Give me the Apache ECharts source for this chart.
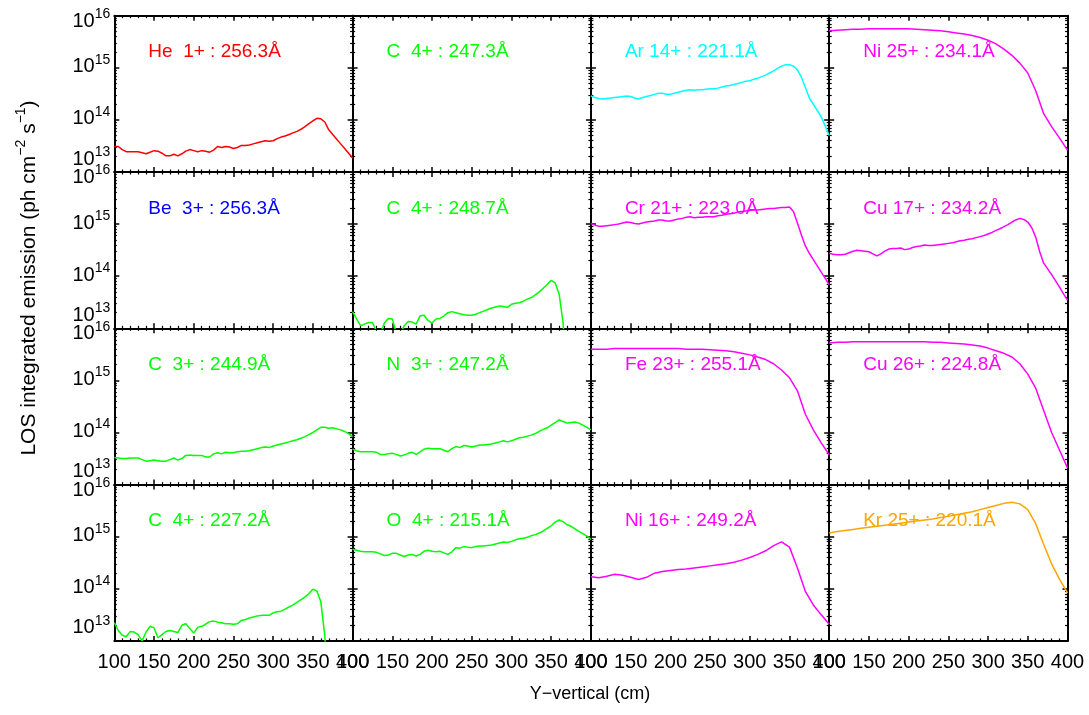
<!DOCTYPE html>
<html><head><meta charset="utf-8">
<script src="https://cdn.jsdelivr.net/npm/echarts@6/dist/echarts.min.js"></script>
<style>html,body{margin:0;padding:0;background:#fff}#c{width:1089px;height:715px}</style>
</head><body><div id="c"></div>
<script>
// ---- data (log10 of LOS integrated emission) ----
const xs5  = [100,105,110,115,120,125,130,135,140,145,150,155,160,165,170,175,180,185,190,195,200,205,210,215,220,225,230,235,240,245,250,255,260,265,270,275,280,285,290,295,300,305,310,315,320,325,330,335,340,345,350,355,360,365,370,375,380,385,390,395,400];
const xs10 = [100,110,120,130,140,150,160,170,180,190,200,210,220,230,240,250,260,270,280,290,300,310,320,330,340,350,360,370,380,390,400];
const yTickExp = [13, 14, 15, 16];
const labels = ['He  1+ : 256.3Å','C  4+ : 247.3Å','Ar 14+ : 221.1Å','Ni 25+ : 234.1Å',
                'Be  3+ : 256.3Å','C  4+ : 248.7Å','Cr 21+ : 223.0Å','Cu 17+ : 234.2Å',
                'C  3+ : 244.9Å','N  3+ : 247.2Å','Fe 23+ : 255.1Å','Cu 26+ : 224.8Å',
                'C  4+ : 227.2Å','O  4+ : 215.1Å','Ni 16+ : 249.2Å','Kr 25+ : 220.1Å'];
const colors = ['#ff0000','#00ff00','#00ffff','#ff00ff',
                '#0000ff','#00ff00','#ff00ff','#ff00ff',
                '#00ff00','#00ff00','#ff00ff','#ff00ff',
                '#00ff00','#00ff00','#ff00ff','#ffa500'];
// sampled every 5 cm
const he1  = [13.49,13.49,13.43,13.39,13.39,13.39,13.39,13.37,13.35,13.38,13.41,13.40,13.36,13.31,13.31,13.34,13.31,13.35,13.40,13.43,13.41,13.39,13.41,13.40,13.38,13.42,13.49,13.47,13.49,13.48,13.45,13.47,13.51,13.51,13.52,13.54,13.56,13.58,13.60,13.59,13.60,13.64,13.67,13.69,13.72,13.75,13.78,13.82,13.87,13.93,13.98,14.03,14.02,13.96,13.81,13.72,13.63,13.54,13.45,13.36,13.27];
const c4a  = [];
const ar14 = [14.46,14.43,14.41,14.40,14.41,14.42,14.43,14.44,14.45,14.46,14.45,14.42,14.40,14.43,14.45,14.47,14.49,14.51,14.51,14.49,14.49,14.51,14.53,14.55,14.57,14.58,14.57,14.58,14.58,14.59,14.60,14.60,14.61,14.63,14.65,14.66,14.68,14.70,14.72,14.74,14.75,14.78,14.80,14.83,14.86,14.90,14.94,14.99,15.03,15.06,15.06,15.03,14.96,14.82,14.62,14.42,14.30,14.18,14.06,13.88,13.70];
const be3  = [];
const c4b  = [13.32,13.18,13.05,13.08,13.11,13.11,12.95,12.90,13.10,13.19,13.18,12.90,12.90,13.05,13.13,13.12,13.08,13.24,13.25,13.15,13.10,13.18,13.19,13.24,13.30,13.32,13.30,13.28,13.26,13.25,13.25,13.27,13.30,13.33,13.36,13.39,13.41,13.43,13.42,13.40,13.46,13.48,13.49,13.52,13.56,13.59,13.64,13.70,13.77,13.84,13.92,13.87,13.66,13.10,12.00,null,null,null,null,null,null];
const cr21 = [15.01,14.98,14.96,14.96,14.97,14.98,14.99,15.00,15.02,15.04,15.03,15.01,15.00,15.02,15.04,15.05,15.06,15.08,15.08,15.06,15.06,15.08,15.10,15.11,15.13,15.14,15.12,15.13,15.13,15.14,15.14,15.14,15.16,15.17,15.19,15.20,15.21,15.23,15.24,15.25,15.26,15.27,15.27,15.28,15.29,15.30,15.30,15.31,15.32,15.32,15.33,15.24,15.02,14.79,14.58,14.44,14.32,14.20,14.08,13.96,13.84];
const cu17 = [14.44,14.42,14.41,14.41,14.42,14.45,14.48,14.50,14.49,14.48,14.47,14.43,14.39,14.43,14.48,14.52,14.53,14.53,14.54,14.51,14.52,14.55,14.57,14.58,14.60,14.59,14.59,14.60,14.61,14.62,14.63,14.64,14.66,14.68,14.69,14.71,14.72,14.74,14.76,14.78,14.81,14.84,14.88,14.91,14.95,14.99,15.04,15.08,15.11,15.09,15.04,14.93,14.75,14.47,14.25,14.14,14.03,13.91,13.79,13.66,13.54];
const c3   = [13.52,13.51,13.50,13.50,13.51,13.51,13.51,13.48,13.45,13.46,13.47,13.46,13.45,13.45,13.48,13.51,13.47,13.50,13.56,13.57,13.56,13.56,13.56,13.53,13.53,13.59,13.61,13.59,13.62,13.61,13.61,13.63,13.64,13.64,13.65,13.67,13.69,13.71,13.72,13.71,13.74,13.76,13.78,13.80,13.82,13.84,13.86,13.89,13.92,13.96,14.00,14.05,14.10,14.10,14.08,14.09,14.07,14.05,14.02,13.98,13.92];
const n3   = [13.68,13.65,13.63,13.63,13.63,13.63,13.62,13.58,13.58,13.59,13.60,13.58,13.55,13.57,13.60,13.62,13.58,13.63,13.68,13.70,13.69,13.69,13.69,13.66,13.63,13.69,13.73,13.71,13.75,13.74,13.72,13.74,13.76,13.76,13.77,13.78,13.80,13.82,13.84,13.82,13.84,13.87,13.90,13.91,13.93,13.95,13.98,14.02,14.06,14.09,14.14,14.19,14.24,14.21,14.18,14.19,14.20,14.18,14.14,14.10,14.05];
const c4c  = [13.35,13.20,13.11,13.08,13.18,13.17,13.12,13.00,13.17,13.28,13.25,13.06,13.12,13.18,13.20,13.18,13.16,13.30,13.33,13.24,13.15,13.26,13.28,13.32,13.37,13.38,13.36,13.35,13.33,13.33,13.32,13.33,13.39,13.41,13.44,13.46,13.48,13.49,13.49,13.49,13.54,13.56,13.57,13.61,13.65,13.69,13.74,13.79,13.84,13.91,13.99,13.96,13.75,13.10,12.00,null,null,null,null,null,null];
const o4   = [14.76,14.74,14.72,14.71,14.71,14.71,14.70,14.67,14.64,14.65,14.68,14.68,14.65,14.62,14.65,14.66,14.63,14.66,14.72,14.74,14.72,14.71,14.72,14.69,14.66,14.71,14.79,14.78,14.81,14.80,14.79,14.81,14.82,14.82,14.83,14.84,14.86,14.88,14.90,14.89,14.91,14.94,14.96,14.97,14.99,15.02,15.04,15.07,15.11,15.16,15.21,15.28,15.32,15.29,15.23,15.20,15.15,15.10,15.06,15.01,14.95];
// sampled every 10 cm
const ni25 = [15.71,15.72,15.73,15.74,15.74,15.75,15.75,15.75,15.75,15.75,15.75,15.74,15.73,15.72,15.71,15.69,15.67,15.65,15.62,15.58,15.53,15.46,15.36,15.24,15.09,14.90,14.56,14.12,13.87,13.65,13.42];
const fe23 = [15.60,15.60,15.60,15.61,15.61,15.61,15.61,15.61,15.61,15.61,15.61,15.61,15.60,15.60,15.60,15.59,15.58,15.57,15.55,15.52,15.49,15.45,15.40,15.32,15.20,15.05,14.80,14.35,14.05,13.80,13.57];
const cu26 = [15.72,15.73,15.73,15.74,15.74,15.74,15.74,15.74,15.74,15.74,15.74,15.74,15.74,15.73,15.73,15.72,15.71,15.70,15.68,15.66,15.62,15.57,15.52,15.45,15.32,15.12,14.85,14.42,14.00,13.66,13.32];
const ni16 = [14.23,14.21,14.24,14.28,14.26,14.22,14.18,14.22,14.30,14.33,14.35,14.37,14.38,14.40,14.42,14.44,14.46,14.48,14.51,14.55,14.60,14.66,14.73,14.83,14.90,14.80,14.40,13.95,13.69,13.50,13.32];
const kr25 = [15.07,15.10,15.12,15.14,15.16,15.18,15.20,15.22,15.24,15.26,15.28,15.30,15.32,15.34,15.37,15.39,15.42,15.45,15.48,15.52,15.56,15.60,15.64,15.66,15.63,15.52,15.25,14.85,14.48,14.18,13.92];
const seriesLog = [he1,c4a,ar14,ni25, be3,c4b,cr21,cu17, c3,n3,fe23,cu26, c4c,o4,ni16,kr25];
const seriesX   = [xs5,xs5,xs5,xs10, xs5,xs5,xs5,xs5, xs5,xs5,xs10,xs10, xs5,xs5,xs10,xs10];

// ---- layout ----
const L0 = 114.3, PW = 238.3, T0 = 15.7, PH = 156.3;
const FONT = "'Liberation Sans', Arial, Helvetica, sans-serif";
const YMIN = Math.pow(10, yTickExp[0]), YMAX = Math.pow(10, yTickExp[yTickExp.length-1]);
const minorVals = [];
yTickExp.slice(0, -1).forEach(e => { for (let m = 2; m <= 9; m++) minorVals.push(m * Math.pow(10, e)); });

const line = {show:true, onZero:false, lineStyle:{color:'#000', width:2}};
function xAx(gi, pos, showLab) {
  return {type:'value', gridIndex:gi, position:pos, min:100, max:400, interval:50,
    axisLine: line, splitLine:{show:false},
    axisTick:{show:true, inside:true, length:5, lineStyle:{color:'#000', width:1.5}},
    minorTick:{show:true, splitNumber:5, length:2.5, lineStyle:{color:'#000', width:1.2}},
    axisLabel:{show:showLab, margin:12, fontSize:20, color:'#000', fontFamily:FONT,
      showMinLabel:true, showMaxLabel:true}};
}
const rich = {
  b:{fontSize:20, fontFamily:FONT, color:'#000', padding:[4,0,6,0]},
  s:{fontSize:14, fontFamily:FONT, color:'#000', verticalAlign:'top'},
  bl:{fontSize:20, fontFamily:FONT, color:'#000', padding:[4,0,30,0]},
  bh:{fontSize:20, fontFamily:FONT, color:'#000', padding:[11,0,0,0]},
  sh:{fontSize:14, fontFamily:FONT, color:'#000', verticalAlign:'top', padding:[7,0,0,0]}
};
function yAx(gi, pos, showLab) {
  return {type:'log', logBase:10, gridIndex:gi, position:pos, min:YMIN, max:YMAX,
    axisLine: line, splitLine:{show:false},
    axisTick:{show:true, inside:true, length:5, lineStyle:{color:'#000', width:1.5}},
    axisLabel:{show:showLab, margin:4, color:'#000', rich:rich,
      formatter: v => {
        const e = Math.round(Math.log10(v));
        if (e === yTickExp[0]) return '{bl|10}{s|' + e + '}';
        if (e === yTickExp[yTickExp.length-1]) return '{bh|10}{sh|' + e + '}';
        return '{b|10}{s|' + e + '}';
      }}};
}
function yMinor(gi, pos) {
  return {type:'log', logBase:10, gridIndex:gi, position:pos, min:YMIN, max:YMAX,
    axisLine:{show:false}, splitLine:{show:false}, axisLabel:{show:false},
    axisTick:{show:true, inside:true, length:2.5, customValues:minorVals, lineStyle:{color:'#000', width:1.2}}};
}

const grid = [], xAxis = [], yAxis = [], series = [], title = [];
labels.forEach((lab, i) => {
  const r = Math.floor(i / 4), c = i % 4;
  const left = L0 + c * PW, top = T0 + r * PH;
  grid.push({left:left, top:top, width:PW, height:PH});
  const xb = xAxis.length;
  xAxis.push(xAx(i, 'bottom', r === 3), xAx(i, 'top', false));
  const yb = yAxis.length;
  yAxis.push(yAx(i, 'left', c === 0), yAx(i, 'right', false), yMinor(i, 'left'), yMinor(i, 'right'));
  const vals = seriesLog[i], xv = seriesX[i];
  series.push({type:'line', xAxisIndex:xb, yAxisIndex:yb, showSymbol:false, symbol:'none', clip:true,
    connectNulls:false, animation:false,
    lineStyle:{color:colors[i], width:1.5}, itemStyle:{color:colors[i]},
    data: vals.map((v, k) => [xv[k], v === null ? null : Math.pow(10, v)])});
  title.push({text:lab, left:left + 34, top:top + 27, padding:0,
    textStyle:{color:colors[i], fontSize:19, fontWeight:'normal', fontFamily:FONT}});
});

const chart = echarts.init(document.getElementById('c'), null, {renderer:'canvas'});
chart.setOption({
  animation:false, backgroundColor:'#fff',
  grid, xAxis, yAxis, series, title,
  graphic:[
    {type:'text', x:27, y:278, rotation:Math.PI/2,
     style:{text:'{n|LOS integrated emission (ph cm}{s|−2}{n| s}{s|−1}{n|)}', align:'center', verticalAlign:'middle',
       rich:{n:{fontSize:21, fontFamily:FONT, fill:'#000', color:'#000', padding:[5,0,0,0]},
             s:{fontSize:14, fontFamily:FONT, fill:'#000', color:'#000', verticalAlign:'top'}}}},
    {type:'text', x:590, y:694,
     style:{text:'Y−vertical (cm)', align:'center', verticalAlign:'middle', fontSize:18, fontFamily:FONT, fill:'#000'}}
  ]
});
</script>
</body></html>
